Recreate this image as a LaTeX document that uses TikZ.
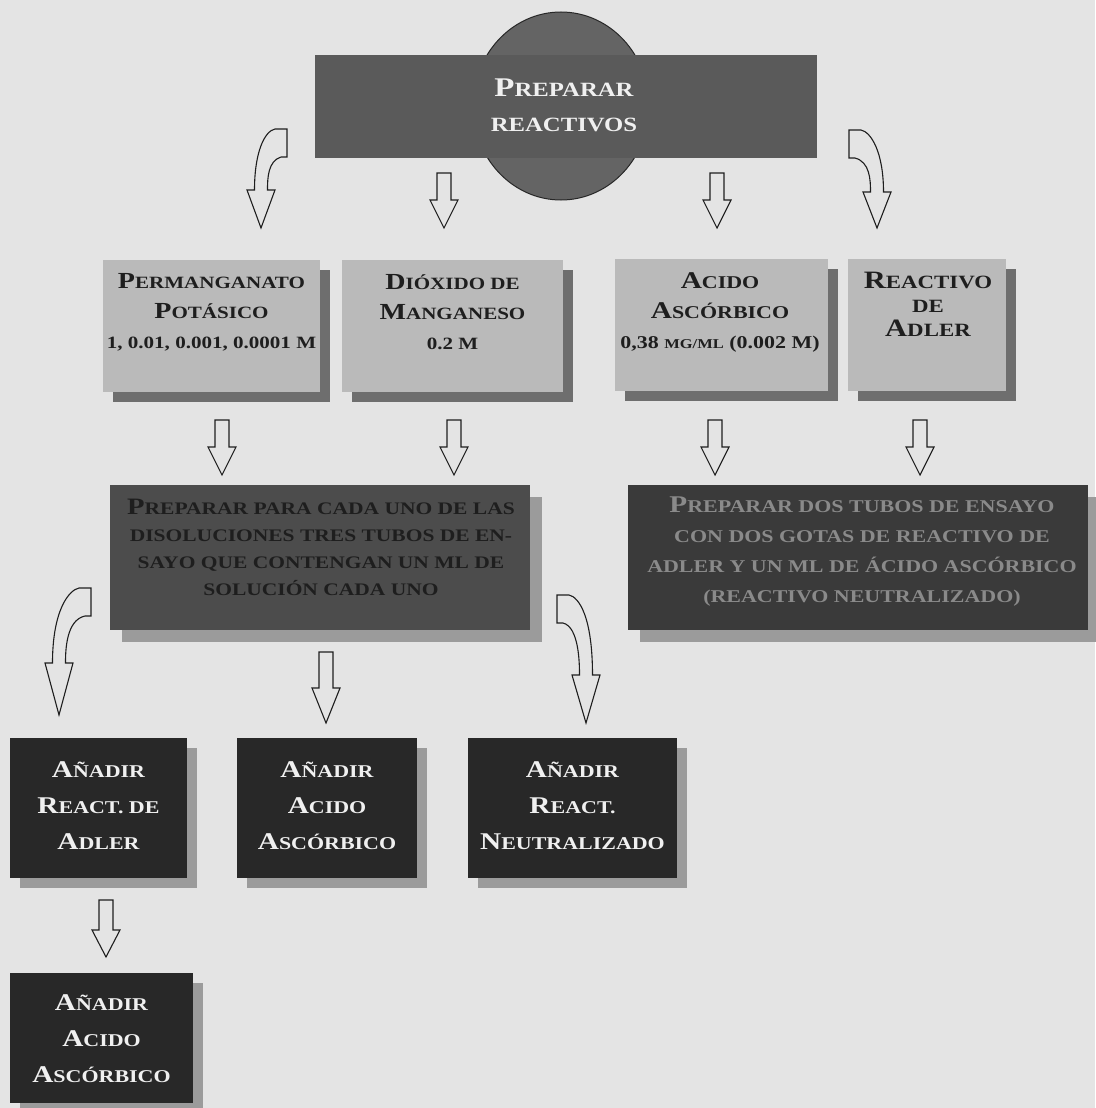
\documentclass[tikz,border=0pt]{standalone}
\usepackage{fontspec}
\setmainfont{Liberation Serif}[FakeStretch=1.22]
\usepackage{tikz}
\usetikzlibrary{calc, shadows}
\definecolor{FondoGris}{RGB}{228, 228, 228}
\definecolor{PizarraMedia}{RGB}{90, 90, 90}
\definecolor{PizarraDisco}{RGB}{100, 100, 100}
\definecolor{GrisClaro}{RGB}{186, 186, 186}
\definecolor{SombraOscura}{RGB}{110, 110, 110}
\definecolor{GrisCarbon}{RGB}{76, 76, 76}
\definecolor{GrisNoche}{RGB}{58, 58, 58}
\definecolor{CasiNegro}{RGB}{40, 40, 40}
\definecolor{SombraClara}{RGB}{155, 155, 155}
\definecolor{TintaOscura}{RGB}{30, 30, 30}
\definecolor{TintaBlanca}{RGB}{240, 240, 240}
\definecolor{TintaGris}{RGB}{138, 138, 138}

% versalitas hechas a mano
\makeatletter
\newcommand{\Sm}{\fontsize{\fpeval{0.75*\f@size}}{\f@baselineskip}\selectfont}
\makeatother
\newcommand{\Sc}[2]{#1{\Sm #2}}

\begin{document}
\begin{tikzpicture}[x=1pt, y=-1pt,
    caja/.style={rectangle, inner sep=0pt},
    texto/.style={align=center, inner sep=0pt},
    cajaclara/.style={caja, fill=GrisClaro, minimum height=132pt,
        drop shadow={shadow xshift=10pt, shadow yshift=-10pt, opacity=1, fill=SombraOscura}},
    cajagrande/.style={caja, minimum height=145pt,
        drop shadow={shadow xshift=12pt, shadow yshift=-12pt, opacity=1, fill=SombraClara}},
    cajanegra/.style={caja, fill=CasiNegro,
        drop shadow={shadow xshift=10pt, shadow yshift=-10pt, opacity=1, fill=SombraClara}},
    flecha/.style={draw=TintaOscura, fill=FondoGris, line width=1.1pt},
    pics/hueca/.style n args={2}{code={
        \draw[flecha] (-7,-#1) -- (7,-#1) -- (7,-#2) -- (14,-#2) -- (0,0)
            -- (-14,-#2) -- (-7,-#2) -- cycle;
    }},
    pics/curva/.style n args={4}{code={
        \draw[flecha, xscale=#4] (#1,-#2) -- (#1+12,-#2) -- (#1+12,-#2+28) -- (#1+6,-#2+28)
            .. controls (7,-#2+32) and (6.5,-#3-12) .. (6.5,-#3) -- (14,-#3) -- (0,0)
            -- (-14,-#3) -- (-6.5,-#3)
            .. controls (-6.5,-#2+22) and (#1-10,-#2+2) .. (#1,-#2) -- cycle;
    }}]
    % Fondo
    \useasboundingbox (0,0) rectangle (1095,1108);
    \fill[FondoGris] (0,0) rectangle (1095,1108);

    % Titulo con el disco detras
    \draw[draw=CasiNegro, fill=PizarraDisco, line width=1pt] (561,106) ellipse [x radius=88pt, y radius=94pt];
    \node[caja, fill=PizarraMedia, minimum width=502pt, minimum height=103pt] (preparar) at (566,106.5) {};
    \node[texto, TintaBlanca, font=\fontsize{27}{35}\selectfont\bfseries] (preparartxt) at (564,105.5)
        {\Sc{P}{REPARAR}\\{\Sm REACTIVOS}};

    % Reactivos
    \node[cajaclara, minimum width=217pt] (perm) at (211.5,326) {};
    \node[cajaclara, minimum width=221pt] (diox) at (452.5,326) {};
    \node[cajaclara, minimum width=213pt] (acido) at (721.5,325) {};
    \node[cajaclara, minimum width=158pt] (adler) at (927,325) {};
    \begin{scope}[every node/.style={texto, TintaOscura, font=\fontsize{23}{30}\selectfont\bfseries}]
        \node (permtxt) at (211.5,312) {\Sc{P}{ERMANGANATO}\\\Sc{P}{OTÁSICO}\\{\Sm 1, 0.01, 0.001, 0.0001 M}};
        \node (dioxtxt) at (452.5,312) {\Sc{D}{IÓXIDO DE}\\\Sc{M}{ANGANESO}\\{\Sm 0.2 M}};
        \node[font=\fontsize{24}{30}\selectfont\bfseries] (acidotxt) at (720,312.5)
            {\Sc{A}{CIDO}\\\Sc{A}{SCÓRBICO}\\{\Sm 0,38 {\Sm MG/ML} (0.002 M)}};
        \node[font=\fontsize{25}{24}\selectfont\bfseries] (adlertxt) at (928,304) {\Sc{R}{EACTIVO}\\{\Sm DE}\\\Sc{A}{DLER}};
    \end{scope}

    % Preparacion de tubos
    \node[cajagrande, fill=GrisCarbon, minimum width=420pt] (tubos) at (320,557.5) {};
    \node[cajagrande, fill=GrisNoche, minimum width=460pt] (neutro) at (858,557.5) {};
    \node[texto, TintaOscura, font=\fontsize{23.5}{27}\selectfont\bfseries] (tubostxt) at (321,547)
        {\Sc{P}{REPARAR PARA CADA UNO DE LAS}\\{\Sm DISOLUCIONES TRES TUBOS DE EN-}\\{\Sm SAYO QUE CONTENGAN UN ML DE}\\{\Sm SOLUCIÓN CADA UNO}};
    \node[texto, TintaGris, font=\fontsize{24}{30}\selectfont\bfseries] (neutrotxt) at (862,552)
        {\Sc{P}{REPARAR DOS TUBOS DE ENSAYO}\\{\Sm CON DOS GOTAS DE REACTIVO DE}\\{\Sm ADLER Y UN ML DE ÁCIDO ASCÓRBICO}\\{\Sm (REACTIVO NEUTRALIZADO)}};

    % Pasos finales
    \node[cajanegra, minimum width=177pt, minimum height=140pt] (adl) at (98.5,808) {};
    \node[cajanegra, minimum width=180pt, minimum height=140pt] (asc) at (327,808) {};
    \node[cajanegra, minimum width=209pt, minimum height=140pt] (neu) at (572.5,808) {};
    \node[cajanegra, minimum width=183pt, minimum height=130pt] (asc2) at (101.5,1038) {};
    \begin{scope}[every node/.style={texto, TintaBlanca, font=\fontsize{24}{36}\selectfont\bfseries}]
        \node (adltxt) at (98.5,806) {\Sc{A}{ÑADIR}\\\Sc{R}{EACT. DE}\\\Sc{A}{DLER}};
        \node (asctxt) at (327,806) {\Sc{A}{ÑADIR}\\\Sc{A}{CIDO}\\\Sc{A}{SCÓRBICO}};
        \node (neutxt) at (572.5,806) {\Sc{A}{ÑADIR}\\\Sc{R}{EACT.}\\\Sc{N}{EUTRALIZADO}};
        \node (asc2txt) at (101.5,1039) {\Sc{A}{ÑADIR}\\\Sc{A}{CIDO}\\\Sc{A}{SCÓRBICO}};
    \end{scope}

    % Flechas huecas rectas
    \foreach \x/\y/\largo/\punta in {444/228/55/28, 717/228/55/28, 222/475/55/28, 454/475/55/28,
                                      715/475/55/28, 920/475/55/28, 326/723/71/35, 106/957/57/27}
        \pic at (\x,\y) {hueca={\largo}{\punta}};

    % Flechas curvas
    \pic at (261,228) {curva={14}{99}{38}{1}};
    \pic at (877,228) {curva={16}{98}{36}{-1}};
    \pic at (59,715) {curva={20}{127}{52}{1}};
    \pic at (586,723) {curva={17}{128}{48}{-1}};
\end{tikzpicture}
\end{document}
